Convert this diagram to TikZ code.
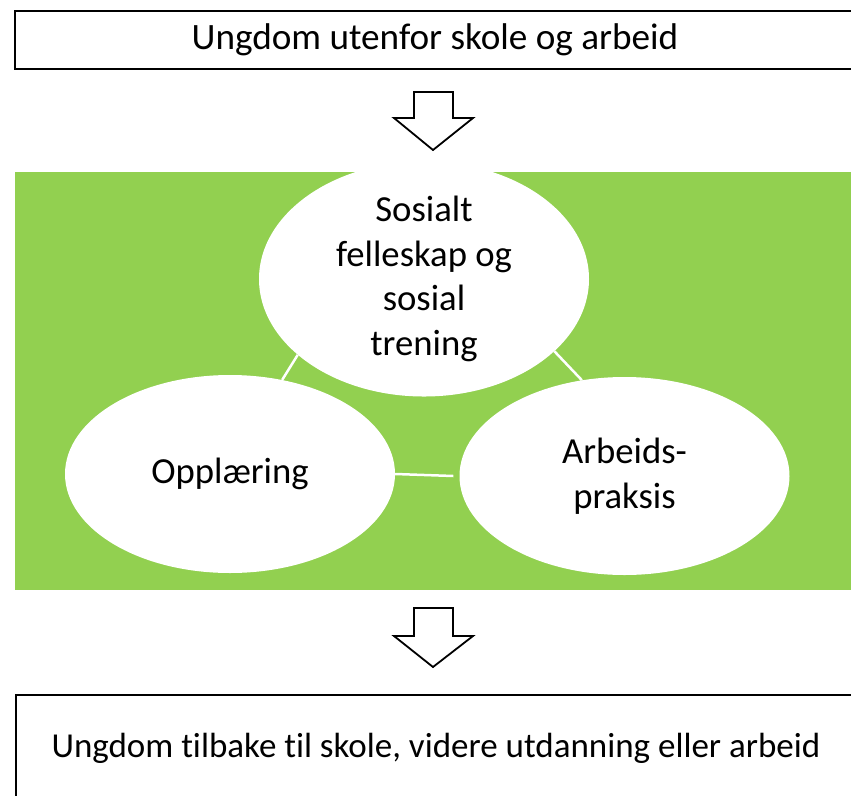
\documentclass[tikz,border=0pt]{standalone}
\usepackage{fontspec}
\setmainfont[Ligatures=NoCommon]{Carlito}
\usetikzlibrary{shapes.geometric}
\definecolor{leaf}{RGB}{146,208,80}
\tikzset{
  box/.style={draw=black, line width=2pt, fill=white, inner sep=0pt, align=center},
  oval/.style={ellipse, fill=white, inner sep=0pt, minimum width=330pt, minimum height=198pt,
    align=center, font=\fontsize{36.7}{44.8}\selectfont},
  link/.style={draw=white, line width=2.5pt},
  blockarrow/.style={draw=black, line width=1.8pt, fill=white, line join=miter}
}
\begin{document}
\begin{tikzpicture}[x=1pt, y=-1pt]
\useasboundingbox (0,0) rectangle (851,795);
\clip (0,0) rectangle (851,795);
\fill[white] (0,0) rectangle (851,795);
% top box
\node[box, minimum width=840pt, minimum height=58pt, font=\fontsize{37.2}{44.8}\selectfont] (topbox) at (435,40) {Ungdom utenfor skole og arbeid};
% arrow 1
\draw[blockarrow] (414,92) -- (453,92) -- (453,118) -- (473,118) -- (433,150) -- (394,118) -- (414,118) -- cycle;
% green panel
\fill[leaf] (15,172) rectangle (860,590);
% ellipses
\node[oval] (sos) at (424,279) {Sosialt\\felleskap og\\sosial\\trening};
\node[oval] (opp) at (230,474) {Oppl\ae ring};
\node[oval] (arb) at (624.5,476) {Arbeids-\\praksis};
\draw[link] (sos.211) -- (opp.61);
\draw[link] (sos.331) -- (arb.114);
\draw[link] (opp.0) -- ([xshift=-6pt]arb.180);
% arrow 2
\draw[blockarrow] (414,608) -- (453,608) -- (453,636) -- (473,636) -- (433,667) -- (394,636) -- (414,636) -- cycle;
% bottom box
\node[box, minimum width=840pt, minimum height=106pt, font=\fontsize{35}{42}\selectfont] (botbox) at (436,748) {Ungdom tilbake til skole, videre utdanning eller arbeid};
\end{tikzpicture}
\end{document}
